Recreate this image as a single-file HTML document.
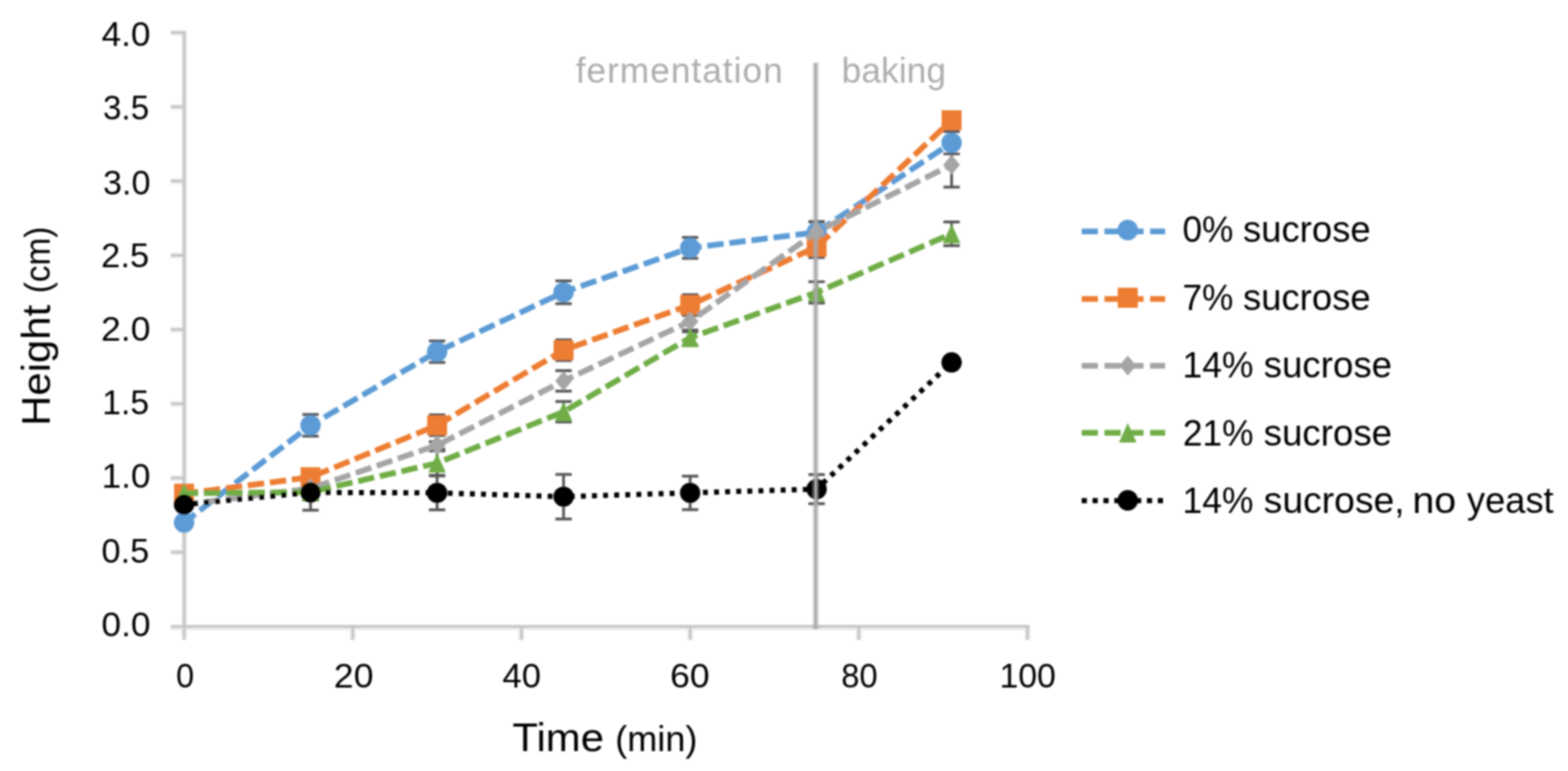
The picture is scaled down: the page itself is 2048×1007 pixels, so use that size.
<!DOCTYPE html>
<html lang="en"><head><meta charset="utf-8"><title>Dough height during fermentation and baking</title>
<style>html,body{margin:0;padding:0;background:#fff;overflow:hidden}body{width:2048px;height:1007px;font-family:"Liberation Sans",sans-serif}svg{display:block;font-family:"Liberation Sans",sans-serif}text{white-space:pre}</style></head><body>
<svg width="2048" height="1007" viewBox="0 0 2048 1007">
<defs><filter id="soft" filterUnits="userSpaceOnUse" x="0" y="0" width="2048" height="1007"><feGaussianBlur stdDeviation="1.25"/></filter></defs>
<rect width="2048" height="1007" fill="#ffffff"/>
<g filter="url(#soft)">
<g stroke="#E9E9E9" stroke-width="7.6" fill="none"><line x1="240.6" y1="40.6" x2="240.6" y2="835.8"/><line x1="223" y1="819.2" x2="1344.6" y2="819.2"/><line x1="223" y1="721.4" x2="240.4" y2="721.4"/><line x1="223" y1="624.5" x2="240.4" y2="624.5"/><line x1="223" y1="527.5" x2="240.4" y2="527.5"/><line x1="223" y1="430.6" x2="240.4" y2="430.6"/><line x1="223" y1="333.6" x2="240.4" y2="333.6"/><line x1="223" y1="236.7" x2="240.4" y2="236.7"/><line x1="223" y1="139.7" x2="240.4" y2="139.7"/><line x1="223" y1="42.8" x2="240.4" y2="42.8"/><line x1="460.7" y1="818.2" x2="460.7" y2="835.8"/><line x1="681.0" y1="818.2" x2="681.0" y2="835.8"/><line x1="901.4" y1="818.2" x2="901.4" y2="835.8"/><line x1="1121.7" y1="818.2" x2="1121.7" y2="835.8"/><line x1="1342.0" y1="818.2" x2="1342.0" y2="835.8"/></g>
<g stroke="#C2C2C2" stroke-width="3.0" fill="none"><line x1="240.6" y1="40.6" x2="240.6" y2="835.8"/><line x1="223" y1="818.3" x2="1344.6" y2="818.3"/><line x1="223" y1="721.2" x2="240.4" y2="721.2"/><line x1="223" y1="624.3" x2="240.4" y2="624.3"/><line x1="223" y1="527.4" x2="240.4" y2="527.4"/><line x1="223" y1="430.4" x2="240.4" y2="430.4"/><line x1="223" y1="333.5" x2="240.4" y2="333.5"/><line x1="223" y1="236.5" x2="240.4" y2="236.5"/><line x1="223" y1="139.6" x2="240.4" y2="139.6"/><line x1="223" y1="42.6" x2="240.4" y2="42.6"/><line x1="460.7" y1="818.2" x2="460.7" y2="835.8"/><line x1="681.0" y1="818.2" x2="681.0" y2="835.8"/><line x1="901.4" y1="818.2" x2="901.4" y2="835.8"/><line x1="1121.7" y1="818.2" x2="1121.7" y2="835.8"/><line x1="1342.0" y1="818.2" x2="1342.0" y2="835.8"/></g>
<text y="59.90" fill="#000000"><tspan x="132.78" font-size="45.00" textLength="63.73" lengthAdjust="spacingAndGlyphs">4.0</tspan></text>
<text y="155.90" fill="#000000"><tspan x="134.46" font-size="45.00" textLength="60.38" lengthAdjust="spacingAndGlyphs">3.5</tspan></text>
<text y="253.50" fill="#000000"><tspan x="134.41" font-size="45.00" textLength="62.05" lengthAdjust="spacingAndGlyphs">3.0</tspan></text>
<text y="349.20" fill="#000000"><tspan x="132.14" font-size="45.00" textLength="62.77" lengthAdjust="spacingAndGlyphs">2.5</tspan></text>
<text y="445.40" fill="#000000"><tspan x="132.08" font-size="45.00" textLength="64.45" lengthAdjust="spacingAndGlyphs">2.0</tspan></text>
<text y="541.00" fill="#000000"><tspan x="133.59" font-size="45.00" textLength="61.28" lengthAdjust="spacingAndGlyphs">1.5</tspan></text>
<text y="637.40" fill="#000000"><tspan x="132.76" font-size="45.00" textLength="63.75" lengthAdjust="spacingAndGlyphs">1.0</tspan></text>
<text y="735.00" fill="#000000"><tspan x="132.61" font-size="45.00" textLength="62.29" lengthAdjust="spacingAndGlyphs">0.5</tspan></text>
<text y="831.00" fill="#000000"><tspan x="132.56" font-size="45.00" textLength="63.96" lengthAdjust="spacingAndGlyphs">0.0</tspan></text>
<text y="897.60" fill="#000000"><tspan x="230.11" font-size="45.00" textLength="23.52" lengthAdjust="spacingAndGlyphs">0</tspan></text>
<text y="897.60" fill="#000000"><tspan x="436.08" font-size="45.00" textLength="51.66" lengthAdjust="spacingAndGlyphs">20</tspan></text>
<text y="897.60" fill="#000000"><tspan x="656.30" font-size="45.00" textLength="50.19" lengthAdjust="spacingAndGlyphs">40</tspan></text>
<text y="897.60" fill="#000000"><tspan x="875.18" font-size="45.00" textLength="51.66" lengthAdjust="spacingAndGlyphs">60</tspan></text>
<text y="897.60" fill="#000000"><tspan x="1098.67" font-size="45.00" textLength="47.63" lengthAdjust="spacingAndGlyphs">80</tspan></text>
<text y="897.60" fill="#000000"><tspan x="1305.49" font-size="45.00" textLength="73.72" lengthAdjust="spacingAndGlyphs">100</tspan></text>
<text y="981.00" fill="#000000"><tspan x="669.31" font-size="52.00" textLength="119.57" lengthAdjust="spacingAndGlyphs">Time</tspan> <tspan x="803.57" font-size="45.40" textLength="107.38" lengthAdjust="spacingAndGlyphs">(min)</tspan></text>
<text transform="rotate(-90)" y="64.60" fill="#000000"><tspan x="-556.17" font-size="52.00" textLength="157.98" lengthAdjust="spacingAndGlyphs">Height</tspan> <tspan x="-383.12" font-size="45.40" textLength="87.22" lengthAdjust="spacingAndGlyphs">(cm)</tspan></text>
<text transform="translate(751.91 107.60)" font-size="46.00" fill="#ADADAD" letter-spacing="1.33">fermentation</text>
<text transform="translate(1099.21 107.60)" font-size="46.00" fill="#ADADAD" letter-spacing="0.18">baking</text>
<path d="M405.6 541.3V569.6M394.9 541.3H416.3M394.9 569.6H416.3M570.9 445.3V473.3M560.2 445.3H581.6M560.2 473.3H581.6M736.1 366.8V396.7M725.4 366.8H746.8M725.4 396.7H746.8M901.4 310.2V337.3M890.7 310.2H912.1M890.7 337.3H912.1M1066.6 289.8V317.0M1055.9 289.8H1077.3M1055.9 317.0H1077.3M1242.9 171.9V201.0M1232.2 171.9H1253.6M1232.2 201.0H1253.6M405.6 613.6V633.0M394.9 613.6H416.3M394.9 633.0H416.3M570.9 541.9V569.0M560.2 541.9H581.6M560.2 569.0H581.6M736.1 443.8V470.9M725.4 443.8H746.8M725.4 470.9H746.8M901.4 384.8V412.0M890.7 384.8H912.1M890.7 412.0H912.1M1066.6 308.4V336.4M1055.9 308.4H1077.3M1055.9 336.4H1077.3M1242.9 147.3V166.7M1232.2 147.3H1253.6M1232.2 166.7H1253.6M405.6 632.1V643.7M394.9 632.1H416.3M394.9 643.7H416.3M570.9 576.8V586.5M560.2 576.8H581.6M560.2 586.5H581.6M736.1 484.1V510.9M725.4 484.1H746.8M725.4 510.9H746.8M901.4 406.2V433.3M890.7 406.2H912.1M890.7 433.3H912.1M1066.6 289.4V316.6M1055.9 289.4H1077.3M1055.9 316.6H1077.3M1242.9 186.1V244.3M1232.2 186.1H1253.6M1232.2 244.3H1253.6M405.6 633.0V652.4M394.9 633.0H416.3M394.9 652.4H416.3M570.9 589.0V620.8M560.2 589.0H581.6M560.2 620.8H581.6M736.1 524.4V551.2M725.4 524.4H746.8M725.4 551.2H746.8M901.4 431.0V451.1M890.7 431.0H912.1M890.7 451.1H912.1M1066.6 368.0V395.9M1055.9 368.0H1077.3M1055.9 395.9H1077.3M1242.9 289.8V320.8M1232.2 289.8H1253.6M1232.2 320.8H1253.6M405.6 619.8V666.4M394.9 619.8H416.3M394.9 666.4H416.3M570.9 621.6V665.8M560.2 621.6H581.6M560.2 665.8H581.6M736.1 619.6V677.8M725.4 619.6H746.8M725.4 677.8H746.8M901.4 621.8V665.6M890.7 621.8H912.1M890.7 665.6H912.1M1066.6 619.8V657.8M1055.9 619.8H1077.3M1055.9 657.8H1077.3" stroke="#5A5A5A" stroke-width="3.7" fill="none"/>
<polyline points="240.4,682.5 405.6,555.5 570.9,459.3 736.1,381.7 901.4,323.8 1066.6,303.4 1242.9,186.5" fill="none" stroke="#5B9BD5" stroke-width="7.5" stroke-dasharray="21.4 7.6" stroke-dashoffset="3.0" stroke-linejoin="round"/>
<g><circle cx="240.4" cy="682.5" r="13.3" fill="#5B9BD5"/><circle cx="405.6" cy="555.5" r="13.3" fill="#5B9BD5"/><circle cx="570.9" cy="459.3" r="13.3" fill="#5B9BD5"/><circle cx="736.1" cy="381.7" r="13.3" fill="#5B9BD5"/><circle cx="901.4" cy="323.8" r="13.3" fill="#5B9BD5"/><circle cx="1066.6" cy="303.4" r="13.3" fill="#5B9BD5"/><circle cx="1242.9" cy="186.5" r="13.3" fill="#5B9BD5"/></g>
<polyline points="240.4,644.7 405.6,623.3 570.9,555.5 736.1,457.4 901.4,398.4 1066.6,322.4 1242.9,157.0" fill="none" stroke="#ED7D31" stroke-width="7.5" stroke-dasharray="21.4 7.6" stroke-dashoffset="3.0" stroke-linejoin="round"/>
<g><rect x="227.4" y="631.7" width="26.0" height="26.0" fill="#ED7D31"/><rect x="392.6" y="610.3" width="26.0" height="26.0" fill="#ED7D31"/><rect x="557.9" y="542.5" width="26.0" height="26.0" fill="#ED7D31"/><rect x="723.1" y="444.4" width="26.0" height="26.0" fill="#ED7D31"/><rect x="888.4" y="385.4" width="26.0" height="26.0" fill="#ED7D31"/><rect x="1053.6" y="309.4" width="26.0" height="26.0" fill="#ED7D31"/><rect x="1229.9" y="144.0" width="26.0" height="26.0" fill="#ED7D31"/></g>
<polyline points="240.4,659.2 405.6,637.9 570.9,581.6 736.1,497.5 901.4,419.7 1066.6,303.0 1242.9,215.2" fill="none" stroke="#A5A5A5" stroke-width="7.5" stroke-dasharray="21.4 7.6" stroke-dashoffset="3.0" stroke-linejoin="round"/>
<g><polygon points="240.4,646.2 251.3,659.2 240.4,672.2 229.5,659.2" fill="#A5A5A5"/><polygon points="405.6,624.9 416.6,637.9 405.6,650.9 394.7,637.9" fill="#A5A5A5"/><polygon points="570.9,568.6 581.8,581.6 570.9,594.6 560.0,581.6" fill="#A5A5A5"/><polygon points="736.1,484.5 747.0,497.5 736.1,510.5 725.2,497.5" fill="#A5A5A5"/><polygon points="901.4,406.7 912.3,419.7 901.4,432.7 890.4,419.7" fill="#A5A5A5"/><polygon points="1066.6,290.0 1077.5,303.0 1066.6,316.0 1055.7,303.0" fill="#A5A5A5"/><polygon points="1242.9,202.2 1253.8,215.2 1242.9,228.2 1231.9,215.2" fill="#A5A5A5"/></g>
<polyline points="240.4,644.1 405.6,642.7 570.9,604.9 736.1,537.8 901.4,441.1 1066.6,381.9 1242.9,305.3" fill="none" stroke="#70AD47" stroke-width="7.5" stroke-dasharray="21.4 7.6" stroke-dashoffset="3.0" stroke-linejoin="round"/>
<g><polygon points="240.4,631.1 251.8,656.4 229.0,656.4" fill="#70AD47"/><polygon points="405.6,629.7 417.1,655.1 394.2,655.1" fill="#70AD47"/><polygon points="570.9,591.9 582.3,617.3 559.4,617.3" fill="#70AD47"/><polygon points="736.1,524.8 747.6,550.2 724.7,550.2" fill="#70AD47"/><polygon points="901.4,428.1 912.8,453.4 889.9,453.4" fill="#70AD47"/><polygon points="1066.6,368.9 1078.0,394.3 1055.2,394.3" fill="#70AD47"/><polygon points="1242.9,292.3 1254.3,317.7 1231.4,317.7" fill="#70AD47"/></g>
<polyline points="240.4,659.0 405.6,643.1 570.9,643.7 736.1,648.7 901.4,643.7 1066.6,638.8 1242.9,473.3" fill="none" stroke="#000000" stroke-width="6.8" stroke-dasharray="6.4 8.1" stroke-dashoffset="2.8" stroke-linejoin="round"/>
<g><circle cx="240.4" cy="659.0" r="13.3" fill="#000000"/><circle cx="405.6" cy="643.1" r="13.3" fill="#000000"/><circle cx="570.9" cy="643.7" r="13.3" fill="#000000"/><circle cx="736.1" cy="648.7" r="13.3" fill="#000000"/><circle cx="901.4" cy="643.7" r="13.3" fill="#000000"/><circle cx="1066.6" cy="638.8" r="13.3" fill="#000000"/><circle cx="1242.9" cy="473.3" r="13.3" fill="#000000"/></g>
<line x1="1065.4" y1="82" x2="1065.4" y2="821.7" stroke="#A8A8A8" stroke-width="8.4" stroke-opacity="0.42"/>
<line x1="1065.4" y1="82" x2="1065.4" y2="821.7" stroke="#A8A8A8" stroke-width="3.2"/>
<line x1="1412.8" y1="302.3" x2="1521.8" y2="302.3" stroke="#5B9BD5" stroke-width="7.5" stroke-dasharray="21.2 8.6"/>
<circle cx="1473.0" cy="300.4" r="13.4" fill="#5B9BD5"/>
<text y="316.30" fill="#000000"><tspan x="1544.46" font-size="47.50" textLength="66.57" lengthAdjust="spacingAndGlyphs">0%</tspan> <tspan x="1623.57" font-size="47.50" textLength="166.64" lengthAdjust="spacingAndGlyphs">sucrose</tspan></text>
<line x1="1412.8" y1="390.6" x2="1521.8" y2="390.6" stroke="#ED7D31" stroke-width="7.5" stroke-dasharray="21.2 8.6"/>
<rect x="1459.9" y="375.8" width="26.2" height="26.2" fill="#ED7D31"/>
<text y="404.70" fill="#000000"><tspan x="1544.50" font-size="47.50" textLength="66.53" lengthAdjust="spacingAndGlyphs">7%</tspan> <tspan x="1623.57" font-size="47.50" textLength="166.64" lengthAdjust="spacingAndGlyphs">sucrose</tspan></text>
<line x1="1412.8" y1="477.8" x2="1521.8" y2="477.8" stroke="#A5A5A5" stroke-width="7.5" stroke-dasharray="21.2 8.6"/>
<polygon points="1473.0,464.4 1484.0,477.5 1473.0,490.6 1462.0,477.5" fill="#A5A5A5"/>
<text y="493.10" fill="#000000"><tspan x="1544.53" font-size="47.50" textLength="92.66" lengthAdjust="spacingAndGlyphs">14%</tspan> <tspan x="1650.56" font-size="47.50" textLength="167.67" lengthAdjust="spacingAndGlyphs">sucrose</tspan></text>
<line x1="1412.8" y1="565.3" x2="1521.8" y2="565.3" stroke="#70AD47" stroke-width="7.5" stroke-dasharray="21.2 8.6"/>
<polygon points="1473.0,552.4 1484.5,577.9 1461.5,577.9" fill="#70AD47"/>
<text y="581.60" fill="#000000"><tspan x="1544.89" font-size="47.50" textLength="92.29" lengthAdjust="spacingAndGlyphs">21%</tspan> <tspan x="1650.56" font-size="47.50" textLength="167.67" lengthAdjust="spacingAndGlyphs">sucrose</tspan></text>
<line x1="1412.8" y1="653.9" x2="1521.8" y2="653.9" stroke="#000000" stroke-width="6.8" stroke-dasharray="6.8 7.4"/>
<circle cx="1473.0" cy="653.5" r="13.4" fill="#000000"/>
<text y="670.00" fill="#000000"><tspan x="1544.53" font-size="47.50" textLength="92.66" lengthAdjust="spacingAndGlyphs">14%</tspan> <tspan x="1650.54" font-size="47.50" textLength="184.12" lengthAdjust="spacingAndGlyphs">sucrose,</tspan> <tspan x="1844.65" font-size="47.50" textLength="57.33" lengthAdjust="spacingAndGlyphs">no</tspan> <tspan x="1916.06" font-size="47.50" textLength="113.22" lengthAdjust="spacingAndGlyphs">yeast</tspan></text>
</g></svg></body></html>
